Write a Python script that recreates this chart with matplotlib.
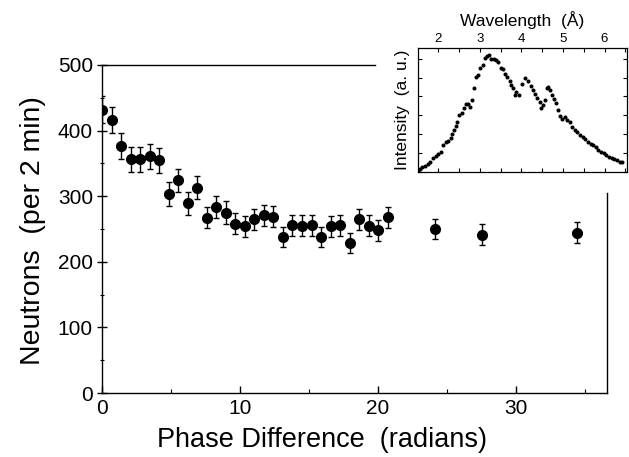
import matplotlib
matplotlib.use("Agg")
import matplotlib.pyplot as plt
from matplotlib.ticker import MultipleLocator

plt.rcParams['font.family'] = ['Liberation Sans', 'DejaVu Sans']

# main panel: counts vs phase difference
phase = [0.0, 0.69, 1.38, 2.07, 2.76, 3.45, 4.14, 4.83, 5.52, 6.21,
         6.90, 7.59, 8.28, 8.97, 9.66, 10.35, 11.04, 11.73, 12.42, 13.11,
         13.80, 14.49, 15.18, 15.87, 16.56, 17.25, 17.94, 18.63, 19.32, 20.01,
         20.70, 24.10, 27.55, 34.40]
counts = [432, 416, 377, 356, 356, 361, 355, 303, 324, 289,
          313, 267, 284, 275, 258, 254, 265, 271, 269, 238,
          256, 255, 256, 238, 254, 256, 229, 265, 255, 248,
          268, 250, 241, 244]
count_err = [21, 20, 20, 19, 19, 19, 19, 18, 18, 17,
             18, 16, 17, 17, 16, 16, 16, 16, 16, 15,
             16, 16, 16, 15, 16, 16, 15, 16, 16, 16,
             16, 16, 16, 16]

# inset: wavelength spectrum
wavelength = [1.506, 1.561, 1.616, 1.681, 1.746, 1.808, 1.880, 1.938, 2.000, 2.065,
              2.120, 2.177, 2.240, 2.297, 2.336, 2.377, 2.417, 2.448, 2.504, 2.561,
              2.616, 2.657, 2.719, 2.767, 2.801, 2.849, 2.897, 2.945, 3.007, 3.065,
              3.120, 3.161, 3.216, 3.264, 3.329, 3.391, 3.439, 3.504, 3.559, 3.616,
              3.664, 3.719, 3.760, 3.808, 3.856, 3.880, 3.935, 4.015, 4.096, 4.158,
              4.223, 4.278, 4.336, 4.384, 4.439, 4.480, 4.528, 4.559, 4.607, 4.638,
              4.686, 4.734, 4.782, 4.839, 4.878, 4.926, 4.974, 5.038, 5.103, 5.158,
              5.213, 5.278, 5.343, 5.405, 5.477, 5.535, 5.597, 5.662, 5.727, 5.789,
              5.854, 5.918, 5.981, 6.046, 6.110, 6.173, 6.237, 6.302, 6.364, 6.429]
intensity = [0.04, 0.14, 0.25, 0.32, 0.41, 0.50, 0.71, 0.84, 0.96, 1.05,
             1.42, 1.56, 1.63, 1.81, 1.99, 2.22, 2.43, 2.66, 3.02, 3.14,
             3.37, 3.58, 3.62, 3.46, 3.81, 4.47, 5.05, 5.14, 5.53, 5.68,
             6.06, 6.17, 6.21, 6.00, 6.00, 5.94, 5.85, 5.53, 5.46, 5.18,
             5.05, 4.82, 4.61, 4.43, 4.08, 4.26, 4.08, 4.65, 4.97, 4.82,
             4.57, 4.35, 4.12, 3.90, 3.69, 3.37, 3.55, 3.81, 4.43, 4.52,
             4.35, 4.08, 3.87, 3.64, 3.28, 2.98, 2.80, 2.93, 2.75, 2.66,
             2.39, 2.22, 2.10, 1.95, 1.86, 1.74, 1.60, 1.49, 1.42, 1.33,
             1.15, 1.06, 0.98, 0.89, 0.80, 0.71, 0.68, 0.62, 0.53, 0.50]

fig = plt.figure(figsize=(6.29, 4.57), dpi=100)
ax = fig.add_axes([0.1622, 0.140, 0.803, 0.7178])
ax.errorbar(phase, counts, yerr=count_err, fmt='o', color='black',
            markersize=7, elinewidth=1.0, capsize=2.2, capthick=1.0)
ax.set_xlim(0, 36.6)
ax.set_ylim(0, 500)
ax.xaxis.set_major_locator(MultipleLocator(10))
ax.xaxis.set_minor_locator(MultipleLocator(5))
ax.yaxis.set_major_locator(MultipleLocator(100))
ax.yaxis.set_minor_locator(MultipleLocator(50))
ax.tick_params(axis='y', which='major', direction='inout', length=7,
               width=1, labelsize=15, pad=3)
ax.tick_params(axis='y', which='minor', direction='inout', length=3, width=0.8)
ax.tick_params(axis='x', which='major', direction='in', length=5,
               width=1, labelsize=15, pad=4)
ax.tick_params(axis='x', which='minor', direction='in', length=3, width=0.8)
ax.spines['top'].set_bounds(0, 19.8)
ax.spines['right'].set_bounds(0, 305)
for s in ax.spines.values():
    s.set_linewidth(1.0)
ax.set_xlabel('Phase Difference  (radians)', fontsize=19.5)
ax.xaxis.set_label_coords(0.436, -0.105)
ax.set_ylabel('Neutrons  (per 2 min)', fontsize=20.5)
ax.yaxis.set_label_coords(-0.11, 0.494)

# inset
ins = fig.add_axes([0.6645, 0.6243, 0.3323, 0.2707])
ins.plot(wavelength, intensity, 'o', color='black', markersize=1.9)
ins.set_xlim(1.51, 6.54)
ins.set_ylim(0, 6.58)
ins.xaxis.set_major_locator(MultipleLocator(1))
ins.xaxis.set_minor_locator(MultipleLocator(0.5))
ins.yaxis.set_major_locator(MultipleLocator(1))
ins.xaxis.tick_top()
ins.xaxis.set_label_position('top')
ins.tick_params(axis='both', which='both', direction='in', length=3,
                width=0.8, top=True, bottom=True, left=True, right=True)
ins.tick_params(axis='x', labelsize=9.5, pad=2)
ins.tick_params(axis='y', labelleft=False)
ins.set_xlabel('Wavelength  (\u00c5)', fontsize=12.5, labelpad=5)
ins.set_ylabel('Intensity  (a. u.)', fontsize=12.5, labelpad=6)
for s in ins.spines.values():
    s.set_linewidth(0.9)

fig.savefig('out.png', dpi=100)
